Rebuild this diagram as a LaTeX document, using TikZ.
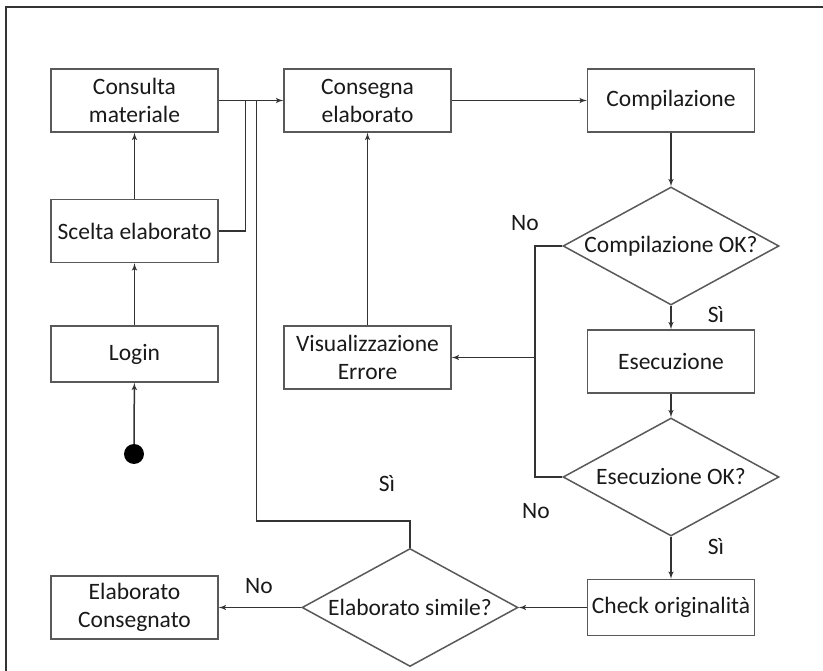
\documentclass[tikz,border=0pt]{standalone}
\usepackage{fontspec}
\setmainfont{Carlito}
\usetikzlibrary{arrows,shapes.geometric}

\begin{document}
\begin{tikzpicture}
	[x=1pt,y=-1pt,auto=center,
	 every node/.style={font=\fontsize{23.5}{28}\selectfont,text=black!90},
	 box/.style={rectangle,draw=black!65,line width=1.5pt,minimum width=167pt,minimum height=63pt,align=center,inner sep=2pt},
	 lowbox/.style={box,minimum height=56pt},
	 decision/.style={diamond,draw=black!65,line width=1.5pt,minimum width=216pt,minimum height=118pt,aspect=1.83,inner sep=0pt},
	 lbl/.style={inner sep=0pt}]
	\tikzset{edge/.style = {->,> = latex',draw=black!80,line width=1.5pt},
	         wire/.style = {draw=black!80,line width=1.5pt}}
	\useasboundingbox (0,0) rectangle (823,671);
	\draw[black!80,line width=1.5pt] (6,671) -- (6,7) -- (823,7);

	\node[circle,fill=black,minimum size=20pt,inner sep=0pt] (start) at (134,454) {};
	\node[lowbox] (login) at (134.5,354) {Login};
	\node[box] (scelta) at (134.5,231) {Scelta elaborato};
	\node[box] (consulta) at (134.5,100.5) {Consulta\\materiale};
	\node[box] (consegna) at (367.5,100.5) {Consegna\\elaborato};
	\node[box] (errore) at (367.5,357.5) {Visualizzazione\\Errore};
	\node[box] (compil) at (671,100.5) {Compilazione};
	\node[decision] (compok) at (671,246) {Compilazione OK?};
	\node[box] (esec) at (671,361.5) {Esecuzione};
	\node[decision] (esecok) at (671,477) {Esecuzione OK?};
	\node[lowbox] (check) at (671,607.5) {Check originalità};
	\node[decision] (simile) at (410,607.5) {Elaborato simile?};
	\node[box] (finale) at (134.5,607.5) {Elaborato\\Consegnato};

	\node[lbl] (no1) at (525,223) {No};
	\node[lbl] (si1) at (716,315) {Sì};
	\node[lbl] (no2) at (536,511) {No};
	\node[lbl] (si2) at (716,547) {Sì};
	\node[lbl] (si3) at (387,484) {Sì};
	\node[lbl] (no3) at (259,586) {No};

	\coordinate (j1) at (245.5,100.5);
	\coordinate (j2) at (256.5,100.5);
	\coordinate (b2) at (256.5,521);
	\coordinate (k) at (535,357.5);

	\foreach \from/\to in {start/login,login/scelta,scelta/consulta,errore/consegna,
	                       consulta/consegna,consegna/compil,compil/compok,compok/esec,
	                       esec/esecok,esecok/check,check/simile,simile/finale}
	\draw[edge] (\from)--(\to);

	\draw[wire] (scelta.east) -| (j1);
	\draw[wire] (simile.north) |- (b2) -- (j2);
	\draw[wire] (compok.west) -| (k) |- (esecok.west);
	\draw[edge] (k) -- (errore.east);
\end{tikzpicture}
\end{document}
